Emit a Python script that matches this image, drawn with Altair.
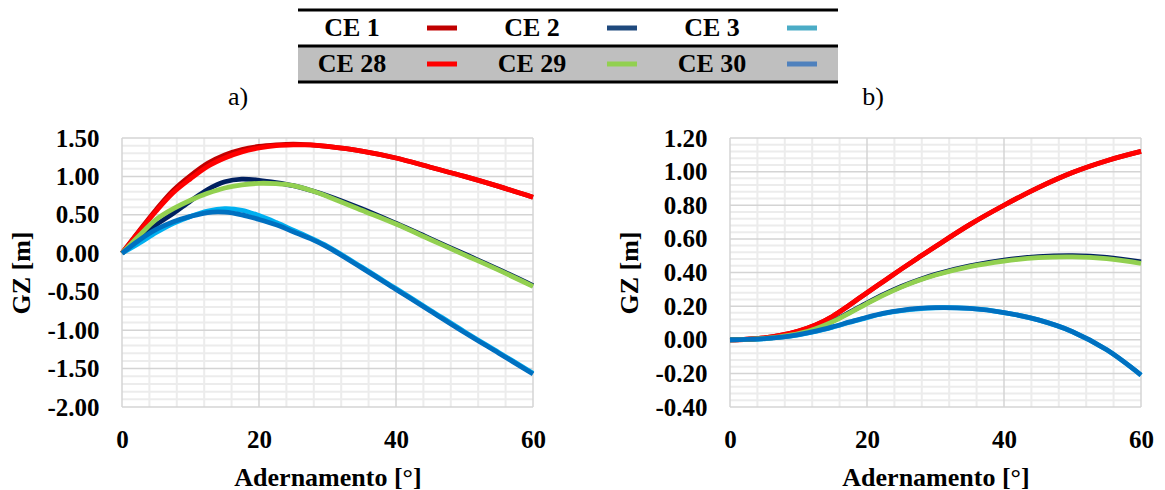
import altair as alt
import pandas as pd

FONT = "Liberation Serif"

# ---------------- data ----------------
angles = [0, 2.5, 5, 7.5, 10, 12.5, 15, 17.5, 20, 22.5, 25, 27.5, 30, 35, 40, 45, 50, 55, 60]
series = ["CE 1", "CE 2", "CE 3", "CE 28", "CE 29", "CE 30"]
line_colors = ["#C00000", "#002060", "#00B0F0", "#FF0000", "#92D050", "#0070C0"]
legend_colors = ["#C00000", "#1F497D", "#4BACC6", "#FF0000", "#92D050", "#4F81BD"]

# panel a)
a_ce1 = [0, 0.29, 0.57, 0.82, 1.01, 1.17, 1.28, 1.35, 1.39, 1.41, 1.42, 1.41, 1.39, 1.33, 1.24, 1.12, 1.00, 0.87, 0.73]
a_ce2 = [0, 0.19, 0.37, 0.52, 0.68, 0.83, 0.93, 0.965, 0.95, 0.92, 0.88, 0.82, 0.75, 0.58, 0.39, 0.19, -0.01, -0.21, -0.42]
a_ce3 = [0, 0.13, 0.27, 0.39, 0.48, 0.55, 0.58, 0.56, 0.49, 0.40, 0.30, 0.20, 0.09, -0.18, -0.46, -0.74, -1.02, -1.29, -1.56]
a_ce28 = [0, 0.28, 0.55, 0.79, 0.97, 1.13, 1.24, 1.32, 1.37, 1.40, 1.41, 1.41, 1.39, 1.33, 1.24, 1.12, 1.00, 0.87, 0.73]
a_ce29 = [0, 0.23, 0.44, 0.58, 0.69, 0.78, 0.85, 0.89, 0.91, 0.905, 0.88, 0.82, 0.74, 0.56, 0.38, 0.18, -0.02, -0.22, -0.43]
a_ce30 = [0, 0.17, 0.31, 0.41, 0.48, 0.53, 0.535, 0.50, 0.44, 0.37, 0.28, 0.19, 0.08, -0.19, -0.47, -0.75, -1.03, -1.30, -1.57]

# panel b)
b_ce1 = [0, 0.003, 0.011, 0.027, 0.052, 0.088, 0.14, 0.208, 0.28, 0.35, 0.42, 0.488, 0.555, 0.685, 0.80, 0.905, 0.995, 1.065, 1.12]
b_ce2 = [0, 0.002, 0.008, 0.019, 0.037, 0.068, 0.111, 0.164, 0.219, 0.271, 0.317, 0.356, 0.389, 0.439, 0.473, 0.494, 0.50, 0.49, 0.463]
b_ce3 = [0, 0.002, 0.006, 0.015, 0.029, 0.049, 0.075, 0.104, 0.132, 0.156, 0.173, 0.184, 0.19, 0.186, 0.162, 0.118, 0.048, -0.06, -0.21]
b_ce28 = [0, 0.003, 0.011, 0.027, 0.052, 0.088, 0.14, 0.208, 0.28, 0.35, 0.42, 0.488, 0.555, 0.685, 0.80, 0.905, 0.995, 1.065, 1.12]
b_ce29 = [0, 0.002, 0.008, 0.019, 0.036, 0.066, 0.108, 0.160, 0.215, 0.267, 0.313, 0.352, 0.385, 0.435, 0.468, 0.488, 0.493, 0.482, 0.455]
b_ce30 = [0, 0.002, 0.007, 0.016, 0.031, 0.051, 0.077, 0.106, 0.134, 0.158, 0.175, 0.186, 0.191, 0.186, 0.162, 0.118, 0.048, -0.06, -0.21]

x_major = [0, 20, 40, 60]
x_minor = [4, 8, 12, 16, 24, 28, 32, 36, 44, 48, 52, 56]
a_y_major = [-2.0, -1.5, -1.0, -0.5, 0.0, 0.5, 1.0, 1.5]
b_y_major = [-0.4, -0.2, 0.0, 0.2, 0.4, 0.6, 0.8, 1.0, 1.2]
a_y_minor = [round(-2.0 + 0.1 * k, 2) for k in range(36) if k % 5 != 0]
b_y_minor = [round(-0.4 + 0.04 * k, 2) for k in range(41) if k % 5 != 0]

PW, PH = 411, 269
LABEL_EXPR = "(datum.value < 0 ? '-' : '') + format(abs(datum.value), '.2f')"


def panel(vals, ydom, ymaj, ymin):
    X = alt.X("angle:Q", scale=alt.Scale(domain=[0, 60], nice=False, zero=False),
              axis=alt.Axis(values=x_major, format="d", title="Adernamento [°]", grid=False,
                            domain=False, ticks=False, labelFlush=False, labelPadding=20, titlePadding=12))
    Y = alt.Y("gz:Q", scale=alt.Scale(domain=ydom, nice=False, zero=False),
              axis=alt.Axis(values=ymaj, labelExpr=LABEL_EXPR, title="GZ [m]", grid=False,
                            domain=False, ticks=False, labelFlush=False, labelPadding=23, titlePadding=12))
    layers = [
        alt.Chart(pd.DataFrame({"angle": x_minor})).mark_rule(color="#ececec", strokeWidth=2).encode(x=X),
        alt.Chart(pd.DataFrame({"gz": ymin})).mark_rule(color="#ececec", strokeWidth=2).encode(y=Y),
        alt.Chart(pd.DataFrame({"angle": x_major})).mark_rule(color="#d4d4d4", strokeWidth=1.5).encode(x=X),
        alt.Chart(pd.DataFrame({"gz": ymaj})).mark_rule(color="#d4d4d4", strokeWidth=1.5).encode(y=Y),
    ]
    for name, col, v in zip(series, line_colors, vals):
        df = pd.DataFrame({"angle": angles, "gz": v, "serie": name})
        layers.append(
            alt.Chart(df).mark_line(color=col, strokeWidth=4.8, interpolate="catmull-rom").encode(x=X, y=Y)
        )
    return alt.layer(*layers).properties(width=PW, height=PH)


left = panel([a_ce1, a_ce2, a_ce3, a_ce28, a_ce29, a_ce30], [-2.0, 1.5], a_y_major, a_y_minor)
right = panel([b_ce1, b_ce2, b_ce3, b_ce28, b_ce29, b_ce30], [-0.4, 1.2], b_y_major, b_y_minor)

# ---------------- legend table (origin = left plot origin) ----------------
LEG_W, LEG_H = 716, 72
TAB_X0 = 176
STEP = 90
FIRST = 54
lo = -(TAB_X0 + FIRST) / STEP
hi = lo + LEG_W / STEP
LX = alt.Scale(domain=[lo, hi], nice=False, zero=False)
LY = alt.Scale(domain=[0, 2], reverse=True, nice=False, zero=False)

leg_df = pd.DataFrame({
    "label": series,
    "color": legend_colors,
    "row": [i // 3 + 0.5 for i in range(len(series))],
    "tcol": [(i % 3) * 2 for i in range(len(series))],
    "dcol": [(i % 3) * 2 + 1 for i in range(len(series))],
})

band = alt.Chart(pd.DataFrame({"y0": [1], "y1": [2]})).mark_rect(color="#bfbfbf").encode(
    x=alt.value(TAB_X0), x2=alt.value(LEG_W),
    y=alt.Y("y0:Q", scale=LY, axis=None), y2="y1:Q")
rules = alt.Chart(pd.DataFrame({"yr": [0, 1, 2]})).mark_rule(color="black", strokeWidth=3).encode(
    y=alt.Y("yr:Q", scale=LY, axis=None), x=alt.value(TAB_X0), x2=alt.value(LEG_W))
texts = alt.Chart(leg_df).mark_text(font=FONT, fontSize=26, fontWeight="bold", color="black").encode(
    x=alt.X("tcol:Q", scale=LX, axis=None), y=alt.Y("row:Q", scale=LY, axis=None), text="label:N")
dashes = alt.Chart(leg_df).mark_tick(orient="horizontal", thickness=5, size=30, opacity=1).encode(
    x=alt.X("dcol:Q", scale=LX, axis=None), y=alt.Y("row:Q", scale=LY, axis=None),
    color=alt.Color("color:N", scale=None))
lab_a = alt.Chart(pd.DataFrame({"k": [0]})).mark_text(
    text="a)", font=FONT, fontSize=26, color="black", align="center", baseline="middle").encode(
    x=alt.value(116), y=alt.value(87))
lab_b = alt.Chart(pd.DataFrame({"k": [0]})).mark_text(
    text="b)", font=FONT, fontSize=26, color="black", align="center", baseline="middle").encode(
    x=alt.value(751), y=alt.value(87))

legend = alt.layer(band, rules, texts, dashes, lab_a, lab_b).properties(width=LEG_W, height=LEG_H)

bottom = alt.hconcat(left, right, spacing=197, bounds="flush")

chart = alt.vconcat(legend, bottom, spacing=16).properties(
    padding={"left": 0, "top": 0, "right": 0, "bottom": 0}
).configure(background="white").configure_view(stroke=None).configure_axis(
    labelFont=FONT, labelFontSize=25, labelFontWeight="bold", labelColor="black",
    titleFont=FONT, titleFontSize=26, titleFontWeight="bold", titleColor="black"
)

chart.save("out.html", embed_options={"renderer": "svg", "actions": False})
